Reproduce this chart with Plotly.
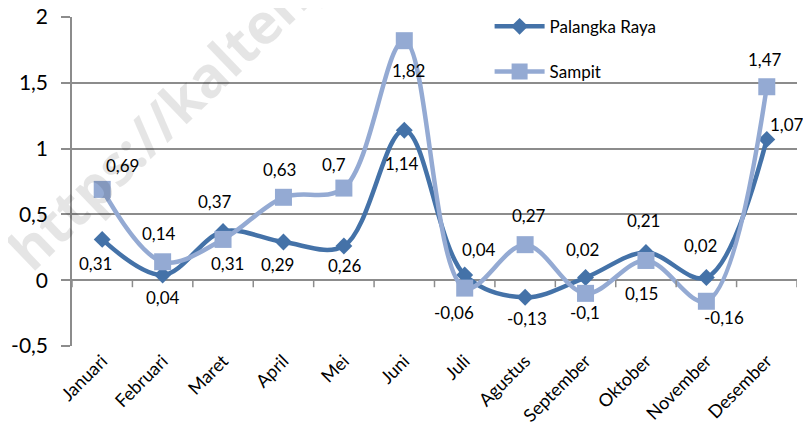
import plotly.graph_objects as go

months = ["Januari", "Februari", "Maret", "April", "Mei", "Juni", "Juli",
          "Agustus", "September", "Oktober", "November", "Desember"]
palangka = [0.31, 0.04, 0.37, 0.29, 0.26, 1.14, 0.04, -0.13, 0.02, 0.21, 0.02, 1.07]
sampit = [0.69, 0.14, 0.31, 0.63, 0.70, 1.82, -0.06, 0.27, -0.10, 0.15, -0.16, 1.47]

# pixel offsets of each data label from its point (dx right, dy up)
off_palangka = [(-7, -25), (0, -24), (-8, 29), (-6, -23), (1, -21), (-2, -34),
                (14, 24), (2, -22), (-3, 27), (-2, 31), (-6, 31), (20, 14)]
off_sampit = [(20, 23), (-4, 27), (4, -25), (-4, 27), (-10, 23), (4, -31),
              (-11, -25), (4, 28), (-1, -20), (-4, -34), (18, -17), (-2, 26)]

y_ticks = [-0.5, 0, 0.5, 1, 1.5, 2]

C_PR = "#4472A8"
C_SA = "#94AAD3"
GRID = "#8C8C8C"
FONT = "Lato"


def fmt(v):
    return ("%g" % v).replace(".", ",")


fig = go.Figure()
fig.add_trace(go.Scatter(
    x=months, y=palangka, name="Palangka Raya", mode="lines+markers",
    line=dict(color=C_PR, width=4.5, shape="spline", smoothing=1),
    marker=dict(symbol="diamond", size=13, color=C_PR),
    legendgroup="a", cliponaxis=False,
))
fig.add_trace(go.Scatter(
    x=months, y=sampit, name="Sampit", mode="lines+markers",
    line=dict(color=C_SA, width=4.5, shape="spline", smoothing=1),
    marker=dict(symbol="square", size=17, color=C_SA),
    legendgroup="b", cliponaxis=False,
))

annotations = []
for vals, offs in ((palangka, off_palangka), (sampit, off_sampit)):
    for m, v, (dx, dy) in zip(months, vals, offs):
        annotations.append(dict(
            x=m, y=v, xref="x", yref="y", text=fmt(v), showarrow=False,
            xshift=dx, yshift=dy + 1, xanchor="center", yanchor="middle",
            font=dict(family=FONT, size=17, color="#000")))

annotations.append(dict(
    text="https://kalteng.bps.go.id", xref="paper", yref="paper",
    x=0.265, y=0.994, showarrow=False, textangle=-44,
    font=dict(family="Open Sans", size=56, weight="bold", color="rgba(0,0,0,0.1)"),
    xanchor="center", yanchor="middle"))

# category-boundary tick marks on the y=0 axis line
shapes = []
for i in range(len(months) + 1):
    shapes.append(dict(type="line", xref="x", yref="y", ysizemode="pixel",
                       yanchor=0, x0=i - 0.5, x1=i - 0.5, y0=0, y1=-7,
                       line=dict(color=GRID, width=1.5)))

fig.update_layout(
    width=803, height=433,
    margin=dict(l=64, r=14, t=9, b=95, autoexpand=False),
    paper_bgcolor="white", plot_bgcolor="white",
    separators=",.",
    font=dict(family=FONT, color="#000"),
    showlegend=True,
    legend=dict(x=0.576, y=1.025, xanchor="left", yanchor="top",
                font=dict(family=FONT, size=17, color="#000"),
                bgcolor="rgba(255,255,255,0)", tracegroupgap=20,
                itemwidth=50),
    shapes=shapes,
    annotations=annotations,
)
fig.update_xaxes(
    type="category", range=[-0.5, len(months) - 0.5], automargin=False,
    showgrid=False, showline=False, zeroline=False, ticks="",
    tickangle=-45, tickfont=dict(family=FONT, size=18, color="#000"),
)
fig.update_yaxes(
    range=[-0.5, 2], tickvals=y_ticks, ticktext=[fmt(v) for v in y_ticks],
    automargin=False,
    showgrid=True, gridcolor=GRID, gridwidth=1.5,
    zeroline=True, zerolinecolor=GRID, zerolinewidth=1.5,
    showline=True, linecolor=GRID, linewidth=1.5,
    ticks="outside", ticklen=9, tickcolor=GRID, tickwidth=1.5,
    ticklabelstandoff=9, ticklabeloverflow="allow",
    tickfont=dict(family=FONT, size=21, color="#000"),
)

fig.write_html("out.html")
